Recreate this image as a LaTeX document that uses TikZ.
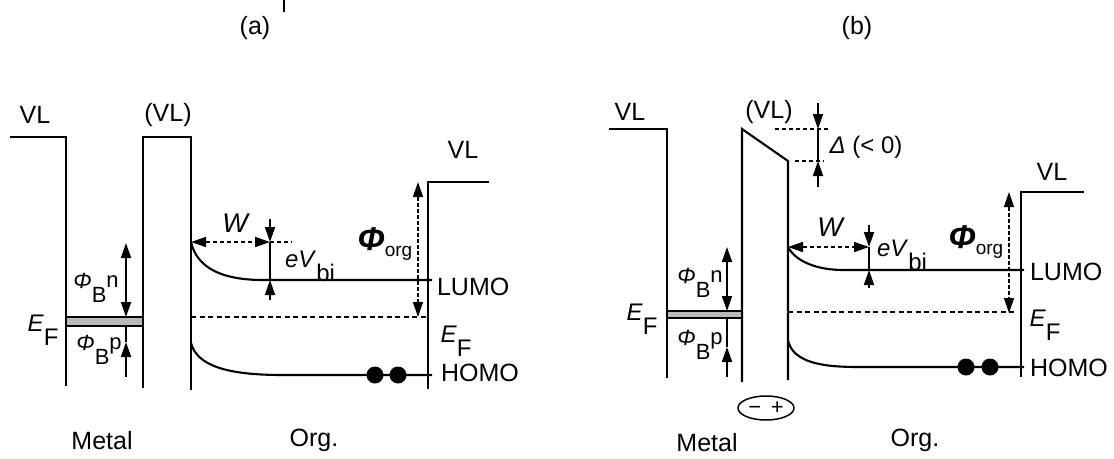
\documentclass[tikz,border=0pt]{standalone}
\usepackage{fontspec}
\setmainfont{Liberation Sans}
\usetikzlibrary{arrows.meta,shapes.geometric}

\newcommand{\phib}[1]{\textit{Φ}\raisebox{-14pt}{B}\raisebox{1pt}{#1}}
\newcommand{\ef}{{\fontsize{24}{26}\selectfont\textit{E}\raisebox{-14pt}{F}}}
\newcommand{\evbi}{\textit{eV}\raisebox{-14pt}{bi}}
\newcommand{\phiorg}{{\fontsize{33}{35}\selectfont\textbf{\textit{Φ}}}\raisebox{-6pt}{\fontsize{19}{21}\selectfont org}}

\tikzset{
  lab/.style={inner sep=0pt, font=\fontsize{25}{28}\selectfont},
  labs/.style={inner sep=0pt, font=\fontsize{22}{25}\selectfont},
  fermi/.style={line width=1.4pt, dash pattern=on 5pt off 3.5pt},
  wdash/.style={line width=1.5pt, dash pattern=on 4pt off 3pt},
  qdash/.style={line width=1.3pt, dash pattern=on 4pt off 2pt},
  band/.style={fill=gray!55, line width=1.3pt},
  dot/.style={circle, fill=black, minimum size=17pt, inner sep=0pt},
  arr/.style={line width=1.8pt},
}

\begin{document}
\begin{tikzpicture}[x=1pt, y=-1pt, line width=2.1pt, >={Triangle[length=15pt,width=10pt]}]
  \useasboundingbox (0,0) rectangle (1114,458);
  \coordinate (tk0) at (284,0); \coordinate (tk1) at (284,12);
  \draw[line width=1.6pt] (tk0) -- (tk1);
  \node[lab] (capa) at (255,28) {(a)};
  \node[lab] (capb) at (857,28) {(b)};

  \coordinate (aVLs) at (10,137);  \coordinate (aMt) at (66,137);  \coordinate (aMb) at (66,386);
  \coordinate (aBtl) at (143,137); \coordinate (aBtr) at (191,137);
  \coordinate (aBbl) at (143,388); \coordinate (aBbr) at (191,390);
  \coordinate (aLs) at (191,242);  \coordinate (aLf) at (263,280); \coordinate (aLe) at (432,280);
  \coordinate (aHs) at (191,343);  \coordinate (aHf) at (282,375); \coordinate (aHe) at (432,375);
  \coordinate (aFs) at (191,317);  \coordinate (aFe) at (428,317);
  \coordinate (aOt) at (428,182);  \coordinate (aOr) at (489,182); \coordinate (aOb) at (428,389);
  \draw (aVLs) -- (aMt) -- (aMb);
  \draw (aBbl) -- (aBtl) -- (aBtr) -- (aBbr);
  \filldraw[band] (66,317) rectangle (143,326);
  \draw (aLs) .. controls (197,268) and (222,280) .. (aLf) -- (aLe);
  \draw (aHs) .. controls (197,366) and (228,375) .. (aHf) -- (aHe);
  \draw[fermi] (aFs) -- (aFe);
  \draw (aOb) -- (aOt) -- (aOr);
  \coordinate (aPt) at (126,243); \coordinate (aPm) at (126,317);
  \coordinate (aPl) at (126,326); \coordinate (aPh) at (126,342); \coordinate (aPb) at (126,377);
  \draw[<->, arr] (aPt) -- (aPm);
  \draw[->, arr] (aPb) -- (aPh);
  \draw[arr] (aPh) -- (aPl);
  \coordinate (aWe) at (270,242); \coordinate (aWx) at (292,242);
  \draw[<->, wdash] (aLs) -- (aWe);
  \draw[wdash] (aWe) -- (aWx);
  \coordinate (aVt) at (270,219); \coordinate (aVl) at (270,280); \coordinate (aVb) at (270,300);
  \draw[->, arr] (aVt) -- (aWe);
  \draw[arr] (aWe) -- (aVl);
  \draw[->, arr] (aVb) -- (aVl);
  \coordinate (aQt) at (418,182); \coordinate (aQb) at (418,317);
  \draw[<->, qdash] (aQt) -- (aQb);
  \foreach \x/\n in {375/1,398/2}
    \node[dot] (adot\n) at (\x,375) {};
  \node[lab] (aVL1) at (35,115) {VL};
  \node[lab] (aVL2) at (168,115) {(VL)};
  \node[lab] (aVL3) at (463,150) {VL};
  \node[labs] (aEF1) at (43,330) {\ef};
  \node[labs] (aEF2) at (456,341) {\ef};
  \node[labs] (aPn) at (96,288) {\phib{n}};
  \node[labs] (aPp) at (99,350) {\phib{p}};
  \node[lab, font=\fontsize{27}{29}\selectfont\itshape] (aW) at (235,223) {W};
  \node[labs, font=\fontsize{24}{26}\selectfont] (aV) at (310,266) {\evbi};
  \node[inner sep=0pt] (aQ) at (385,244) {\phiorg};
  \node[lab, anchor=west] (aLU) at (436,287) {LUMO};
  \node[lab, anchor=west] (aHO) at (440,373) {HOMO};
  \node[lab] (aMe) at (102,441) {Metal};
  \node[lab] (aOg) at (314,440) {Org.};

  \coordinate (bVLs) at (609,129);  \coordinate (bMt) at (667,129);  \coordinate (bMb) at (667,378);
  \coordinate (bBtl) at (742,129);  \coordinate (bBtr) at (788,161);
  \coordinate (bBbl) at (742,382);  \coordinate (bBbr) at (788,380);
  \coordinate (bLs) at (788,247);   \coordinate (bLf) at (843,270); \coordinate (bLe) at (1024,270);
  \coordinate (bHs) at (788,341);   \coordinate (bHf) at (858,367); \coordinate (bHe) at (1024,367);
  \coordinate (bFs) at (788,312);   \coordinate (bFe) at (1017,312);
  \coordinate (bOt) at (1021,192);  \coordinate (bOr) at (1084,192); \coordinate (bOb) at (1021,377);
  \draw (bVLs) -- (bMt) -- (bMb);
  \draw (bBbl) -- (bBtl) -- (bBtr) -- (bBbr);
  \filldraw[band] (667,311) rectangle (742,318);
  \draw (bLs) .. controls (796,262) and (818,270) .. (bLf) -- (bLe);
  \draw (bHs) .. controls (794,362) and (820,367) .. (bHf) -- (bHe);
  \draw[fermi] (bFs) -- (bFe);
  \draw (bOb) -- (bOt) -- (bOr);
  \coordinate (bPt) at (727,247); \coordinate (bPm) at (727,311);
  \coordinate (bPl) at (727,318); \coordinate (bPh) at (727,347); \coordinate (bPb) at (727,377);
  \draw[<->, arr] (bPt) -- (bPm);
  \draw[->, arr] (bPb) -- (bPh);
  \draw[arr] (bPh) -- (bPl);
  \coordinate (bWe) at (869,247);
  \draw[<->, wdash] (bLs) -- (bWe);
  \coordinate (bVt) at (869,225); \coordinate (bVl) at (869,270); \coordinate (bVb) at (869,288);
  \draw[->, arr] (bVt) -- (bWe);
  \draw[arr] (bWe) -- (bVl);
  \draw[->, arr] (bVb) -- (bVl);
  \coordinate (bQt) at (1009,192); \coordinate (bQb) at (1009,313);
  \draw[<->, qdash] (bQt) -- (bQb);
  \coordinate (bDt) at (818,103); \coordinate (bDu) at (818,129);
  \coordinate (bDl) at (818,161); \coordinate (bDb) at (818,187);
  \coordinate (bDu0) at (775,129); \coordinate (bDu1) at (830,129);
  \coordinate (bDl0) at (795,161); \coordinate (bDl1) at (824,161);
  \draw[wdash, line width=1.3pt] (bDu0) -- (bDu1);
  \draw[wdash, line width=1.3pt] (bDl0) -- (bDl1);
  \draw[->, arr] (bDt) -- (bDu);
  \draw[arr] (bDu) -- (bDl);
  \draw[->, arr] (bDb) -- (bDl);
  \foreach \x/\n in {966/1,990/2}
    \node[dot] (bdot\n) at (\x,367) {};
  \node[draw, ellipse, line width=1.5pt, minimum width=56pt, minimum height=24pt, inner sep=0pt,
        font=\fontsize{22}{24}\selectfont] (dip) at (766,408) {−\ \,+};
  \node[lab] (bVL1) at (630,112) {VL};
  \node[lab] (bVL2) at (769,112) {(VL)};
  \node[lab] (bVL3) at (1052,172) {VL};
  \node[labs] (bEF1) at (642,319) {\ef};
  \node[labs] (bEF2) at (1045,325) {\ef};
  \node[labs] (bPn) at (700,283) {\phib{n}};
  \node[labs] (bPp) at (700,345) {\phib{p}};
  \node[lab, font=\fontsize{24}{26}\selectfont] (bDel) at (866,147) {\textit{Δ} (< 0)};
  \node[lab, font=\fontsize{27}{29}\selectfont\itshape] (bW) at (830,227) {W};
  \node[labs, font=\fontsize{24}{26}\selectfont] (bV) at (902,255) {\evbi};
  \node[inner sep=0pt] (bQ) at (976,242) {\phiorg};
  \node[lab, anchor=west] (bLU) at (1029,272) {LUMO};
  \node[lab, anchor=west] (bHO) at (1029,368) {HOMO};
  \node[lab] (bMe) at (707,443) {Metal};
  \node[lab] (bOg) at (915,440) {Org.};
\end{tikzpicture}
\end{document}
